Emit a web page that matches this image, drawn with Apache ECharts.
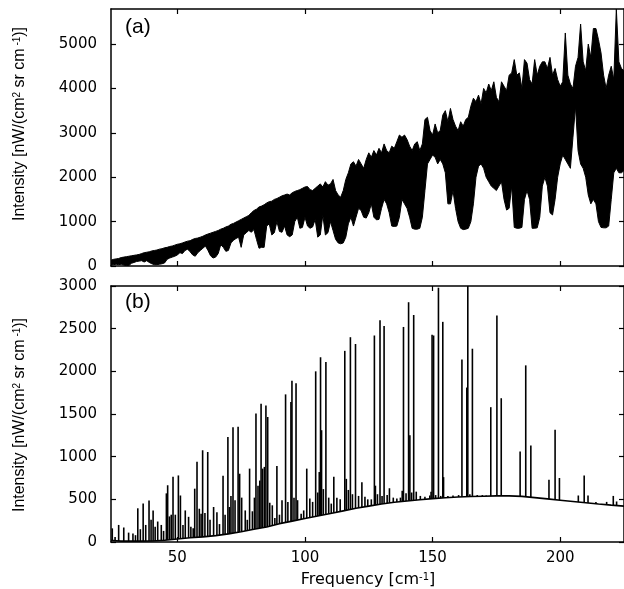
<!DOCTYPE html>
<html><head><meta charset="utf-8">
<script src="https://cdn.jsdelivr.net/npm/echarts@6/dist/echarts.min.js"></script>
<style>html,body{margin:0;padding:0;background:#fff}#c{width:624px;height:589px}</style>
</head><body><div id="c"></div>
<script>
// ---------- Panel (a): dense spectrum, upper / lower envelope on a 1 cm-1 grid from 24 to 225 ----------
const freqStartA = 24;
const freqStepA = 1;
const upperA = [
  130,150,160,170,190,200,210,220,230,240,
  250,260,280,300,310,320,340,350,360,380,
  390,410,420,440,450,470,490,500,520,540,
  560,570,600,620,630,650,670,700,720,740,
  760,780,800,830,850,880,900,940,960,990,
  1020,1050,1080,1110,1140,1200,1250,1280,1330,1350,
  1380,1420,1450,1460,1500,1520,1550,1580,1600,1620,
  1600,1650,1680,1700,1720,1750,1780,1790,1720,1700,
  1750,1800,1850,1780,1900,1820,1850,1950,1700,1600,
  1550,1700,1950,2100,2300,2350,2250,2400,2300,2200,
  2400,2550,2450,2600,2500,2650,2550,2750,2600,2550,
  2700,2650,2800,2950,2900,2950,2850,2700,2600,2750,
  2800,2600,2750,3300,3350,3050,2950,3200,3000,3050,
  3400,3500,3250,3550,3300,3150,3050,3250,3150,3300,
  3350,3600,3780,3700,3850,3650,4000,3900,4100,3950,
  4150,3800,3700,4150,4050,3950,4300,4350,4650,4300,
  4350,4000,4650,4570,4200,4100,4650,4300,4500,4600,
  4600,4450,4700,4300,4450,4200,4050,4150,5250,4300,
  4100,4000,4500,4700,5450,4600,4400,5000,4700,5350,
  5350,5100,4800,4300,4000,4300,4500,4200,5790,4600,
  4450,4400
];
const lowerA = [
  20,30,40,30,40,20,10,10,60,80,
  100,110,120,90,120,80,50,30,30,40,
  50,70,150,180,200,220,250,300,280,350,
  380,320,250,220,300,350,400,450,350,230,
  180,200,280,480,420,330,350,520,580,620,
  650,420,700,750,800,760,820,600,400,420,
  420,900,950,700,750,1000,780,760,900,700,
  660,700,1000,1100,850,870,1100,900,850,880,
  1050,650,700,1150,700,750,1000,800,600,520,
  500,520,650,950,1100,900,1100,1300,1250,1100,
  1080,1200,1400,1100,1040,1050,1300,1500,1400,1200,
  900,890,900,1100,1500,1400,1300,1100,850,830,
  830,850,1100,1700,2300,2400,2500,2450,2300,2400,
  2300,2100,1400,1400,1700,1300,1000,850,820,830,
  850,1000,1400,2000,2250,2300,2200,2000,1900,1800,
  1750,1700,1800,1900,1500,1260,1300,1800,870,850,
  850,870,1500,1700,1500,850,850,860,1100,1800,
  2000,1800,1200,1150,1500,2000,2300,2500,2400,2300,
  2200,2900,3600,2600,2300,2200,2000,1600,1400,1500,
  1400,1000,870,860,860,900,1500,2100,2200,2100,
  2100,2150
];
const freqA = upperA.map((_, i) => freqStartA + i * freqStepA);

// ---------- Panel (b): smooth continuum + line spikes ----------
const baseFreqB = [24,26,28,30,35,40,45,50,55,60,65,70,75,80,85,90,95,100,105,110,115,120,125,130,135,140,145,150,155,160,165,170,175,180,185,190,195,200,205,210,215,220,225];
const baseB =     [20,15,10,10,10,12,20,35,50,60,75,95,120,150,175,215,245,275,305,335,365,395,420,445,465,480,495,508,518,527,533,537,540,540,535,520,505,490,475,460,445,432,420];

const spikeFreqB = [
  24.5,25.6,27.0,29.0,30.9,32.6,33.6,34.5,35.5,36.6,37.6,38.9,39.7,40.5,41.3,42.3,43.7,44.6,
  45.7,46.2,46.9,47.6,48.3,49.2,50.4,51.2,52.2,53.1,54.4,55.3,56.2,56.8,57.7,58.6,59.3,59.9,
  60.8,61.9,62.8,64.2,65.5,66.5,67.9,68.7,69.8,70.4,71.0,71.8,72.6,73.8,74.4,75.2,76.6,77.4,
  78.3,79.4,80.2,80.8,81.6,82.3,82.8,83.4,84.1,84.7,85.4,86.2,87.2,88.2,89.0,90.0,91.0,92.4,
  93.3,94.5,94.9,95.7,96.5,97.1,98.5,99.5,100.7,101.9,103.0,104.2,105.0,105.6,106.1,106.5,
  107.2,108.2,109.3,110.3,111.3,112.5,113.8,115.6,116.2,117.0,117.8,118.6,119.8,121.0,122.3,
  123.5,124.6,126.0,127.2,127.6,128.4,129.4,130.2,131.0,132.2,133.1,134.6,136.0,137.4,138.1,
  138.6,139.6,140.6,141.1,141.8,142.6,143.6,145.2,147.0,148.9,149.4,149.8,150.4,151.2,152.3,
  153.2,154.0,154.3,156.0,158.0,160.2,161.5,163.4,163.8,164.6,165.6,167.5,169.5,171.0,172.8,
  175.2,176.9,178.5,184.3,186.5,188.5,195.6,198.0,199.7,207.1,209.4,210.9,214.0,218.2,220.8,222.1
];
const spikeB = [
  160,60,200,170,110,100,80,395,150,450,200,485,260,370,180,240,200,130,
  570,665,300,320,765,320,780,545,200,370,295,180,160,625,940,390,330,1075,
  340,1055,260,410,350,210,775,320,1230,410,540,1345,490,1350,800,520,370,260,
  860,360,520,1505,660,720,1620,860,880,1600,1465,460,430,280,890,320,490,1730,
  470,1640,1890,520,1860,490,330,370,860,510,470,2000,580,820,2165,1310,
  620,2110,520,450,765,520,500,2240,740,610,2400,560,2320,540,700,
  530,500,500,2420,660,560,2600,540,2530,550,630,520,510,520,600,
  2520,570,2810,1250,580,2660,590,540,530,545,590,2430,2420,550,2980,
  540,2580,760,540,545,550,2140,1810,3000,560,2265,550,550,545,1580,
  2655,1685,548,1060,2070,1130,730,1315,750,545,780,545,470,470,540,475
];

// ---------- Axes ----------
const xTicks = [50, 100, 150, 200];
const yTicksA = [0, 1000, 2000, 3000, 4000, 5000];
const yTicksB = [0, 500, 1000, 1500, 2000, 2500, 3000];
const X_MIN = 24, X_MAX = 225, YA_MAX = 5790, YB_MAX = 3000;

const tickFont = {color: '#000', fontFamily: 'DejaVu Sans', fontSize: 15, formatter: v => String(v)};
const lineCol = {color: '#000', width: 1.5};

function xAx(grid, pos, labels) {
  return {
    type: 'value', gridIndex: grid, position: pos, min: X_MIN, max: X_MAX, z: 6,
    axisLine: {show: true, onZero: false, lineStyle: lineCol},
    axisTick: {show: true, inside: true, length: 5, customValues: xTicks, lineStyle: {color: '#000', width: 1.2}},
    axisLabel: Object.assign({show: labels, customValues: xTicks, margin: 9}, tickFont),
    splitLine: {show: false}
  };
}
function yAx(grid, pos, labels, max, ticks) {
  return {
    type: 'value', gridIndex: grid, position: pos, min: 0, max: max, z: 6,
    axisLine: {show: true, onZero: false, lineStyle: lineCol},
    axisTick: {show: true, inside: true, length: 5, customValues: ticks, lineStyle: {color: '#000', width: 1.2}},
    axisLabel: Object.assign({show: labels, customValues: ticks, margin: 14}, tickFont),
    splitLine: {show: false}
  };
}

const supStyle = {fontFamily: 'Liberation Sans', fontSize: 10, verticalAlign: 'top', fill: '#000'};
const yTitleText = 'Intensity [nW/(cm{sup|2} sr cm{sup| -1})]';
function yTitle(x, y) {
  return {
    type: 'text', x: x, y: y, rotation: Math.PI / 2,
    style: {
      text: yTitleText, fill: '#000', fontFamily: 'Liberation Sans', fontSize: 16,
      align: 'center', verticalAlign: 'middle', rich: {sup: supStyle}
    }
  };
}

const chart = echarts.init(document.getElementById('c'), null, {renderer: 'canvas'});
chart.setOption({
  animation: false,
  backgroundColor: '#fff',
  grid: [
    {left: 111, right: 0, top: 9, height: 257},
    {left: 111, right: 0, top: 286, height: 256}
  ],
  xAxis: [xAx(0, 'bottom', false), xAx(0, 'top', false), xAx(1, 'bottom', true), xAx(1, 'top', false)],
  yAxis: [yAx(0, 'left', true, YA_MAX, yTicksA), yAx(0, 'right', false, YA_MAX, yTicksA),
          yAx(1, 'left', true, YB_MAX, yTicksB), yAx(1, 'right', false, YB_MAX, yTicksB)],
  series: [
    {type: 'line', xAxisIndex: 0, yAxisIndex: 0, z: 2, silent: true, symbol: 'none',
     data: freqA.map((x, i) => [x, upperA[i]]),
     lineStyle: {color: '#000', width: 1}, areaStyle: {color: '#000', opacity: 1}},
    {type: 'line', xAxisIndex: 0, yAxisIndex: 0, z: 3, silent: true, symbol: 'none',
     data: freqA.map((x, i) => [x, lowerA[i]]),
     lineStyle: {color: '#000', width: 1}, areaStyle: {color: '#fff', opacity: 1}},
    {type: 'custom', xAxisIndex: 2, yAxisIndex: 2, z: 2, silent: true,
     data: spikeFreqB.map((x, i) => [x, spikeB[i]]),
     renderItem: function (params, api) {
       const p0 = api.coord([api.value(0), 0]);
       const p1 = api.coord([api.value(0), api.value(1)]);
       return {type: 'line', shape: {x1: p0[0], y1: p0[1], x2: p1[0], y2: p1[1]},
               style: {stroke: '#000', lineWidth: 1.6}};
     }},
    {type: 'line', xAxisIndex: 2, yAxisIndex: 2, z: 3, silent: true, symbol: 'none',
     data: baseFreqB.map((x, i) => [x, baseB[i]]),
     lineStyle: {color: '#000', width: 1.6}, areaStyle: {color: '#fff', opacity: 1}}
  ],
  graphic: [
    {type: 'text', left: 125, top: 17, z: 10,
     style: {text: '(a)', fill: '#000', fontFamily: 'Liberation Sans', fontSize: 21}},
    {type: 'text', left: 125, top: 292, z: 10,
     style: {text: '(b)', fill: '#000', fontFamily: 'Liberation Sans', fontSize: 21}},
    yTitle(20, 124),
    yTitle(20, 415),
    {type: 'text', x: 368, y: 580, z: 10,
     style: {text: 'Frequency [cm{sup|-1}]', fill: '#000', fontFamily: 'DejaVu Sans', fontSize: 16,
             align: 'center', verticalAlign: 'middle',
             rich: {sup: {fontFamily: 'DejaVu Sans', fontSize: 10, verticalAlign: 'top', fill: '#000'}}}}
  ]
});
</script>
</body></html>
